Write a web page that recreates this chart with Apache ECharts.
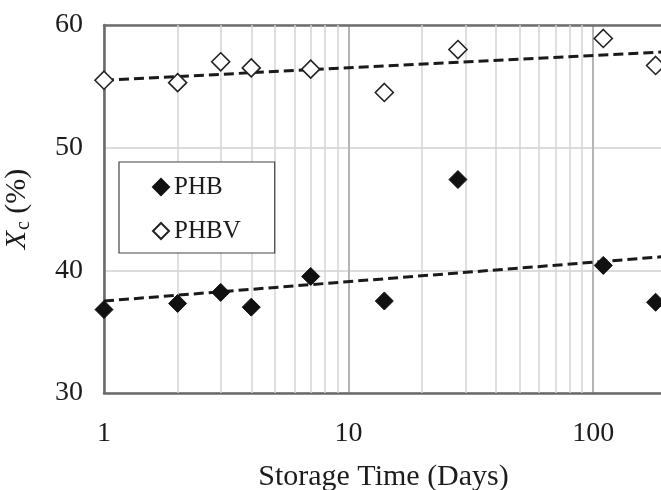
<!DOCTYPE html>
<html><head><meta charset="utf-8">
<script src="https://cdn.jsdelivr.net/npm/echarts@6/dist/echarts.min.js"></script>
<style>html,body{margin:0;padding:0;background:#fff}#c{width:661px;height:490px}</style>
</head><body><div id="c"></div>
<script>
// Storage time (days) and crystallinity readings
const days = [1, 2, 3, 4, 7, 14, 28, 110, 180];
const phb = [36.8, 37.3, 38.2, 37.0, 39.5, 37.5, 47.4, 40.4, 37.4];
const phbv = [55.5, 55.3, 57.0, 56.5, 56.4, 54.5, 58.0, 58.9, 56.7];
// log-linear trend lines, given by their end values
const trendDays = [1, 190];
const phbTrend = [37.5, 41.1];
const phbvTrend = [55.5, 57.8];
// minor log grid positions
const minorDays = [2, 3, 4, 5, 6, 7, 8, 9, 20, 30, 40, 50, 60, 70, 80, 90];
const yMin = 30, yMax = 60, yStep = 10;
const xMin = 1, xMax = 193;

const FONT = 'Liberation Serif';
const INK = '#1c1c1c';
const pairs = (xs, ys) => xs.map((x, i) => [x, ys[i]]);

const chart = echarts.init(document.getElementById('c'));
chart.setOption({
  animation: false,
  backgroundColor: '#fff',
  grid: { left: 104, right: -2, top: 25, bottom: 97, containLabel: false, outerBoundsMode: 'none' },
  xAxis: [{
    type: 'log', logBase: 10, min: xMin, max: xMax,
    name: 'Storage Time (Days)', nameLocation: 'middle', nameGap: 69,
    nameTextStyle: { fontFamily: FONT, fontSize: 30, color: INK },
    axisLine: { show: true, lineStyle: { color: '#6a6a6a', width: 2.5 } },
    axisTick: { show: false },
    axisLabel: { fontFamily: FONT, fontSize: 28, color: INK, margin: 27, showMaxLabel: false },
    splitLine: { show: true, lineStyle: { color: '#b4b4b4', width: 2 } }
  }, {
    type: 'log', logBase: 10, min: xMin, max: xMax, position: 'top',
    axisLine: { show: true, lineStyle: { color: '#6e6e6e', width: 2.5 } },
    axisTick: { show: false }, axisLabel: { show: false }, splitLine: { show: false }
  }],
  yAxis: {
    type: 'value', min: yMin, max: yMax, interval: yStep,
    name: '{x|X}{c|c} (%)', nameLocation: 'middle', nameGap: 70, nameRotate: 90,
    nameTextStyle: {
      fontFamily: FONT, fontSize: 30, color: INK,
      rich: {
        x: { fontFamily: FONT, fontSize: 30, fontStyle: 'italic', color: INK, lineHeight: 34 },
        c: { fontFamily: FONT, fontSize: 20, color: INK, verticalAlign: 'bottom', lineHeight: 20, padding: [18, 0, 0, 1] }
      }
    },
    axisLine: { show: true, lineStyle: { color: '#6a6a6a', width: 2.5 } },
    axisTick: { show: false },
    axisLabel: { fontFamily: FONT, fontSize: 28, color: INK, margin: 21 },
    splitLine: { show: true, lineStyle: { color: '#d0d0d0', width: 1.5 } }
  },
  legend: {
    left: 119, top: 162, orient: 'vertical',
    data: ['PHB', 'PHBV'],
    backgroundColor: '#fff', borderColor: '#444', borderWidth: 1.2,
    padding: [11, 34, 8, 33], itemGap: 16,
    itemWidth: 16, itemHeight: 16,
    textStyle: { fontFamily: FONT, fontSize: 25, color: INK, lineHeight: 28 }
  },
  series: [
    {
      name: 'grid', type: 'scatter', data: [], z: 1, silent: true,
      markLine: {
        z: 1, silent: true, symbol: 'none', animation: false,
        label: { show: false },
        lineStyle: { color: '#d4d4d4', width: 1.5, type: 'solid' },
        data: minorDays.map(d => ({ xAxis: d }))
      }
    },
    {
      name: 'PHB trend', type: 'line', data: pairs(trendDays, phbTrend), z: 2,
      symbol: 'none', silent: true,
      lineStyle: { color: '#1a1a1a', width: 3, type: [10, 5] }
    },
    {
      name: 'PHBV trend', type: 'line', data: pairs(trendDays, phbvTrend), z: 2,
      symbol: 'none', silent: true,
      lineStyle: { color: '#1a1a1a', width: 3, type: [10, 5] }
    },
    {
      name: 'PHB', type: 'scatter', data: pairs(days, phb), z: 3,
      symbol: 'diamond', symbolSize: 18,
      itemStyle: { color: '#111', borderColor: '#111', borderWidth: 1, opacity: 1 }
    },
    {
      name: 'PHBV', type: 'scatter', data: pairs(days, phbv), z: 3,
      symbol: 'diamond', symbolSize: 18,
      itemStyle: { color: '#fff', borderColor: '#222', borderWidth: 1.6, opacity: 1 }
    }
  ]
});
</script>
</body></html>
